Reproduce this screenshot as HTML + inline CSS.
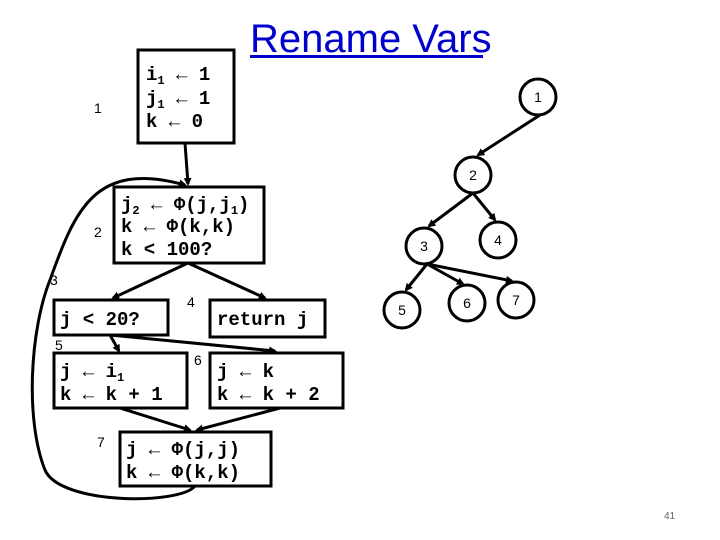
<!DOCTYPE html>
<html><head><meta charset="utf-8"><style>
html,body{margin:0;padding:0;background:#fff;}
svg{display:block;}
.m{font-family:"Liberation Mono",monospace;font-size:19px;font-weight:bold;fill:#000;}
.s{font-size:12px;}
.l{font-family:"Liberation Sans",sans-serif;font-size:14px;fill:#000;}
.c{font-family:"Liberation Sans",sans-serif;font-size:14px;fill:#000;text-anchor:middle;}
</style></head><body>
<svg width="720" height="540" viewBox="0 0 720 540" xmlns="http://www.w3.org/2000/svg">
<defs><marker id="a" markerWidth="8" markerHeight="8" refX="6" refY="4" orient="auto" markerUnits="userSpaceOnUse"><path d="M0,0 L8,4 L0,8 z" fill="#000"/></marker></defs>
<text x="250" y="52" font-family="Liberation Sans, sans-serif" font-size="40" fill="#0000cc">Rename Vars</text>
<rect x="250" y="55" width="233" height="3" fill="#0000cc"/>
<g fill="none" stroke="#000" stroke-width="3">
<rect x="138" y="50" width="96" height="93"/>
<rect x="114" y="187" width="150" height="76"/>
<rect x="54" y="300" width="114" height="35"/>
<rect x="210" y="300" width="115" height="37"/>
<rect x="54" y="353" width="133" height="55"/>
<rect x="210" y="353" width="133" height="55"/>
<rect x="120" y="432" width="151" height="54"/>
</g>
<g stroke="#000" stroke-width="3" fill="none" marker-end="url(#a)">
<line x1="185" y1="143" x2="188" y2="184"/>
<line x1="188" y1="263" x2="113" y2="298"/>
<line x1="188" y1="263" x2="265" y2="298"/>
<line x1="110" y1="335" x2="119" y2="351"/>
<line x1="110" y1="335" x2="275" y2="351"/>
<line x1="120" y1="408" x2="190" y2="430"/>
<line x1="280" y1="408" x2="197" y2="430"/>
<path d="M195,486 C180,505 60,505 45,470 C25,420 30,330 50,280 C75,210 95,160 185,185"/>
</g>
<text class="m" x="146" y="80">i<tspan class="s" dy="4">1</tspan><tspan dy="-4"> ← 1</tspan></text>
<text class="m" x="146" y="104">j<tspan class="s" dy="4">1</tspan><tspan dy="-4"> ← 1</tspan></text>
<text class="m" x="146" y="127">k ← 0</text>
<text class="m" x="121" y="210">j<tspan class="s" dy="4">2</tspan><tspan dy="-4"> ← Φ(j,j</tspan><tspan class="s" dy="4">1</tspan><tspan dy="-4">)</tspan></text>
<text class="m" x="121" y="232">k ← Φ(k,k)</text>
<text class="m" x="121" y="255">k &lt; 100?</text>
<text class="m" x="60" y="325">j &lt; 20?</text>
<text class="m" x="217" y="325">return j</text>
<text class="m" x="60" y="377">j ← i<tspan class="s" dy="4">1</tspan></text>
<text class="m" x="60" y="400">k ← k + 1</text>
<text class="m" x="217" y="377">j ← k</text>
<text class="m" x="217" y="400">k ← k + 2</text>
<text class="m" x="126" y="455">j ← Φ(j,j)</text>
<text class="m" x="126" y="478">k ← Φ(k,k)</text>
<text class="l" x="94" y="113">1</text>
<text class="l" x="94" y="237">2</text>
<text class="l" x="50" y="285">3</text>
<text class="l" x="187" y="307">4</text>
<text class="l" x="55" y="350">5</text>
<text class="l" x="194" y="365">6</text>
<text class="l" x="97" y="447">7</text>
<g fill="#fff" stroke="#000" stroke-width="3">
<circle cx="538" cy="97" r="18"/>
<circle cx="473" cy="175" r="18"/>
<circle cx="424" cy="246" r="18"/>
<circle cx="498" cy="240" r="18"/>
<circle cx="402" cy="310" r="18"/>
<circle cx="467" cy="303" r="18"/>
<circle cx="516" cy="300" r="18"/>
</g>
<g stroke="#000" stroke-width="3" marker-end="url(#a)">
<line x1="540" y1="115" x2="478" y2="155"/>
<line x1="473" y1="193" x2="429" y2="226"/>
<line x1="473" y1="193" x2="495" y2="220"/>
<line x1="427" y1="264" x2="406" y2="290"/>
<line x1="427" y1="264" x2="463" y2="284"/>
<line x1="427" y1="264" x2="512" y2="281"/>
</g>
<text class="c" x="538" y="102">1</text>
<text class="c" x="473" y="180">2</text>
<text class="c" x="424" y="251">3</text>
<text class="c" x="498" y="245">4</text>
<text class="c" x="402" y="315">5</text>
<text class="c" x="467" y="308">6</text>
<text class="c" x="516" y="305">7</text>
<text x="664" y="519" font-family="Liberation Sans, sans-serif" font-size="10" fill="#666">41</text>
</svg>
</body></html>
